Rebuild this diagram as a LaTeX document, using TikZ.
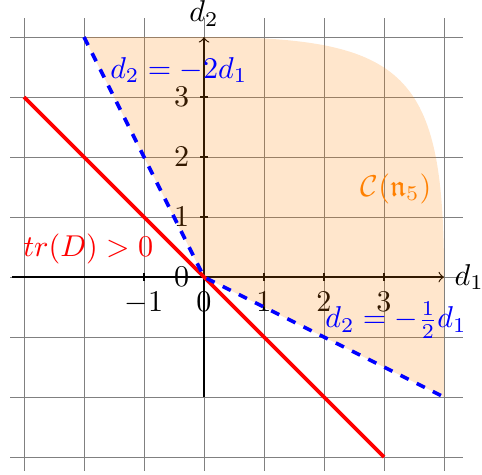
\documentclass[tikz,border=0pt]{standalone}
\usepackage{amssymb}
\begin{document}
\begin{tikzpicture}[x=0.7cm,y=0.7cm]
    \useasboundingbox (-3.4,-3.283) rectangle (4.633,4.617);
    \draw[gray,line width=0.3pt,step=1](-3.23,-3.23) grid (4.32,4.32);

    % Assi e tacche
    \draw[->](-3.2,0) -- (4,0) node[right] (asse1) {$d_1$};
    \draw[->](0,-2) -- (0,4) node[above] (asse2) {$d_2$};
    \foreach \x in {-1,0,1,2,3}
        \draw(\x,0.07) -- (\x,-0.07) node[below] (tx\x) {$\x$};
    \foreach \y in {0,1,2,3}
        \draw(0.07,\y) -- (-0.07,\y) node[left] (ty\y) {$\y$};

    \coordinate (O) at (0,0);
    \coordinate (A) at (-2,4);
    \coordinate (B) at (4,-2);
    \coordinate (R1) at (-3,3);
    \coordinate (R2) at (3,-3);

    % Il cono, riempito in arancione trasparente
    \fill[orange,opacity=0.2](A) -- (O) -- (B) -- (4,0) .. controls (4,3.39) and (3.39,4) .. (0,4) -- cycle;
    \node[orange] (cono) at (3.2,1.47) {$\mathcal{C}(\mathfrak{n}_5)$};

    \draw[red,very thick](R1) -- (R2);
    \node[red] (traccia) at (-1.93,0.47) {$tr(D)>0$};

    \draw[blue,very thick,dashed](A) -- (O) -- (B);
    \node[blue] (retta1) at (-0.42,3.45) {$d_2=-2d_1$};
    \node[blue] (retta2) at (3.2,-0.72) {$d_2=-\frac{1}{2}d_1$};
\end{tikzpicture}
\end{document}
